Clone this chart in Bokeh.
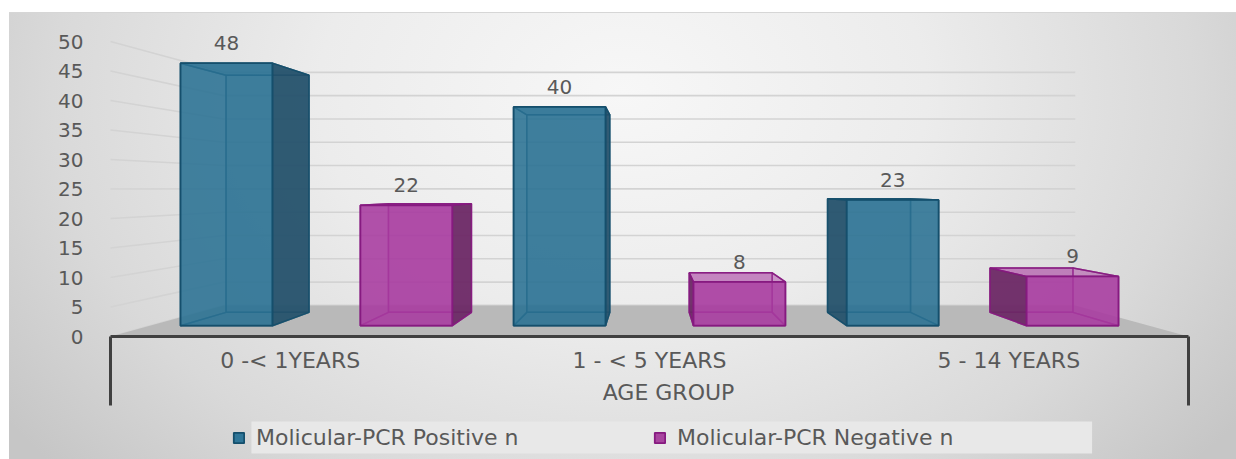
from bokeh.plotting import figure
from bokeh.layouts import column
from bokeh.models import Range1d, LinearAxis, FixedTicker, Legend, LegendItem, BoxAnnotation
from bokeh.core.properties import value
from bokeh.embed import file_html
from bokeh.resources import INLINE

# ---------------- data ----------------
categories = ["0 -< 1YEARS", "1 - < 5 YEARS", "5 - 14 YEARS"]
positive = [48, 40, 23]
negative = [22, 8, 9]
series_names = ["Molicular-PCR Positive n", "Molicular-PCR Negative n"]
y_ticks = [0, 5, 10, 15, 20, 25, 30, 35, 40, 45, 50]
x_title = "AGE GROUP"

# ---------------- 3D look (perspective) ----------------
N = len(categories)
VPX = N / 2.0          # vanishing point x (data units)
VPY = 25.1             # horizon (data units)
S_FRONT = 0.927        # bar front plane scale
S_BACK = 0.837         # bar back plane scale
S_WALL = 0.79          # back wall scale
DODGE = 0.27
WIDTH = 0.276
FONT_NAME = "DejaVu Sans"
FONT = value(FONT_NAME)
TXT = "#595959"
W = 1227
NAN = float("nan")


def proj(x, y, s):
    return VPX + (x - VPX) * s, VPY + (y - VPY) * s


def poly(pts):
    return [q[0] for q in pts], [q[1] for q in pts]


p = figure(width=W, height=398,
           x_range=Range1d(-10 / 359.33, N + 48 / 359.33),
           y_range=Range1d(0, 323 / 5.9),
           output_backend="svg", toolbar_location=None,
           x_axis_type=None, y_axis_type=None,
           min_border_left=91, min_border_right=0,
           min_border_top=0, min_border_bottom=75)
p.outline_line_color = None
p.background_fill_alpha = 0
p.border_fill_alpha = 0

# gridlines: left side wall + back wall
gx, gy = [], []
for t in y_ticks:
    a = proj(0, t, 1.0)
    b = proj(0, t, S_WALL)
    c = proj(N, t, S_WALL)
    gx.append([a[0], b[0], c[0]])
    gy.append([a[1], b[1], c[1]])
p.multi_line(gx, gy, line_color="#d3d3d3", line_width=1.6)

# floor
fx, fy = poly([proj(0, 0, 1.0), proj(N, 0, 1.0), proj(N, 0, S_WALL), proj(0, 0, S_WALL)])
p.patch(fx, fy, fill_color="#b9b9b9", line_color=None)

styles = [
    dict(front="#2a7193", side="#24506a", line="#154f6c", legend="#2f7698"),
    dict(front="#a83a9f", side="#6a2764", line="#861a80", legend="#a8459f"),
]
series_vals = [positive, negative]
offsets = [-DODGE, DODGE]

for k, vals in enumerate(series_vals):
    st = styles[k]
    faces = {"back": ([], []), "hid": ([], []), "bottom": ([], []), "top": ([], []),
             "vis": ([], []), "front": ([], [])}
    lx, ly, lt = [], [], []
    for i, v in enumerate(vals):
        c = i + 0.5 + offsets[k]
        x0, x1 = c - WIDTH / 2, c + WIDTH / 2

        def add(name, pts):
            xs, ys = poly(pts)
            faces[name][0].append(xs)
            faces[name][1].append(ys)

        add("back", [proj(x0, 0, S_BACK), proj(x1, 0, S_BACK), proj(x1, v, S_BACK), proj(x0, v, S_BACK)])
        left = [proj(x0, 0, S_FRONT), proj(x0, 0, S_BACK), proj(x0, v, S_BACK), proj(x0, v, S_FRONT)]
        right = [proj(x1, 0, S_FRONT), proj(x1, 0, S_BACK), proj(x1, v, S_BACK), proj(x1, v, S_FRONT)]
        if c < VPX:
            add("vis", right)
            add("hid", left)
        else:
            add("vis", left)
            add("hid", right)
        add("bottom", [proj(x0, 0, S_FRONT), proj(x1, 0, S_FRONT), proj(x1, 0, S_BACK), proj(x0, 0, S_BACK)])
        add("top", [proj(x0, v, S_FRONT), proj(x1, v, S_FRONT), proj(x1, v, S_BACK), proj(x0, v, S_BACK)])
        add("front", [proj(x0, 0, S_FRONT), proj(x1, 0, S_FRONT), proj(x1, v, S_FRONT), proj(x0, v, S_FRONT)])
        tx, ty = proj(c, v, S_FRONT)
        lx.append(tx)
        ly.append(ty + 3.4)
        lt.append(str(v))

    p.patches(*faces["back"], fill_color=st["front"], fill_alpha=0.3,
              line_color=st["line"], line_alpha=0.7, line_width=1.5)
    p.patches(*faces["hid"], fill_color=st["front"], fill_alpha=0.15,
              line_color=st["line"], line_alpha=0.7, line_width=1.5)
    p.patches(*faces["bottom"], fill_color=st["front"], fill_alpha=0.2,
              line_color=st["line"], line_alpha=0.7, line_width=1.5)
    p.patches(*faces["top"], fill_color=st["front"], fill_alpha=0.4,
              line_color=st["line"], line_alpha=0.9, line_width=1.5)
    p.patches(*faces["vis"], fill_color=st["side"], fill_alpha=0.92,
              line_color=st["line"], line_alpha=0.9, line_width=1.5)
    p.patches(*faces["front"], fill_color=st["front"], fill_alpha=0.86,
              line_color=st["line"], line_alpha=1.0, line_width=1.8)
    p.text(x=lx, y=ly, text=lt, text_align="center", text_baseline="middle",
           text_font=FONT, text_font_size="20px", text_color=TXT)

# axes
yaxis = LinearAxis(ticker=FixedTicker(ticks=y_ticks),
                   axis_line_color=None, major_tick_out=0, major_tick_in=0,
                   minor_tick_out=0, minor_tick_in=0,
                   major_tick_line_color=None, minor_tick_line_color=None,
                   major_label_standoff=17,
                   major_label_text_font=FONT_NAME, major_label_text_font_size="20px",
                   major_label_text_color=TXT)
p.add_layout(yaxis, "left")

cat_pos = [i + 0.5 for i in range(N)]
xaxis = LinearAxis(ticker=FixedTicker(ticks=cat_pos, minor_ticks=[0, N]),
                   bounds=(0, N),
                   major_label_overrides={pos: name for pos, name in zip(cat_pos, categories)},
                   axis_label=x_title,
                   axis_line_width=3, axis_line_color="#404040",
                   major_tick_out=0, major_tick_in=0, major_tick_line_color=None,
                   minor_tick_out=69, minor_tick_in=0, minor_tick_line_width=3,
                   minor_tick_line_color="#404040",
                   major_label_standoff=-58,
                   major_label_text_font=FONT_NAME, major_label_text_font_size="22px",
                   major_label_text_color=TXT,
                   axis_label_standoff=4,
                   axis_label_text_font=FONT_NAME, axis_label_text_font_size="22px",
                   axis_label_text_font_style="normal", axis_label_text_color=TXT)
p.add_layout(xaxis, "below")

# legend strip (separate small figure)
pl = figure(width=W, height=49, x_range=Range1d(0, W), y_range=Range1d(0, 49),
            output_backend="svg", toolbar_location=None,
            x_axis_type=None, y_axis_type=None,
            min_border_left=0, min_border_right=0, min_border_top=0, min_border_bottom=0)
pl.outline_line_color = None
pl.background_fill_alpha = 0
pl.border_fill_alpha = 0
pl.add_layout(BoxAnnotation(left=163, right=1071, bottom=7, top=39,
                            fill_color="#e8e8e8", fill_alpha=1.0, line_color=None))
items = []
for k in range(2):
    st = styles[k]
    r = pl.patches(xs=[[NAN, NAN, NAN]], ys=[[NAN, NAN, NAN]], fill_color=st["legend"], fill_alpha=1.0,
                   line_color=st["line"], line_width=1.8)
    items.append(LegendItem(label=series_names[k], renderers=[r]))
legend = Legend(items=items, orientation="horizontal", location=(132, 10),
                glyph_width=13, glyph_height=13, label_standoff=11, spacing=0,
                label_width=397, padding=4, margin=0,
                background_fill_alpha=0, border_line_color=None,
                label_text_font=FONT_NAME, label_text_font_size="22px", label_text_color=TXT)
pl.add_layout(legend)

lay = column(p, pl, spacing=0)
lay.margin = (12, 0, 0, 9)
lay.styles = {"background": "radial-gradient(ellipse 62% 125% at 50% 18%, #f7f7f7 0%, #ececec 40%, #d9d9d9 75%, #c6c6c6 100%)",
              "border-top": "1px solid #d6d6d6"}

open("out.html", "w").write(file_html(lay, INLINE))
